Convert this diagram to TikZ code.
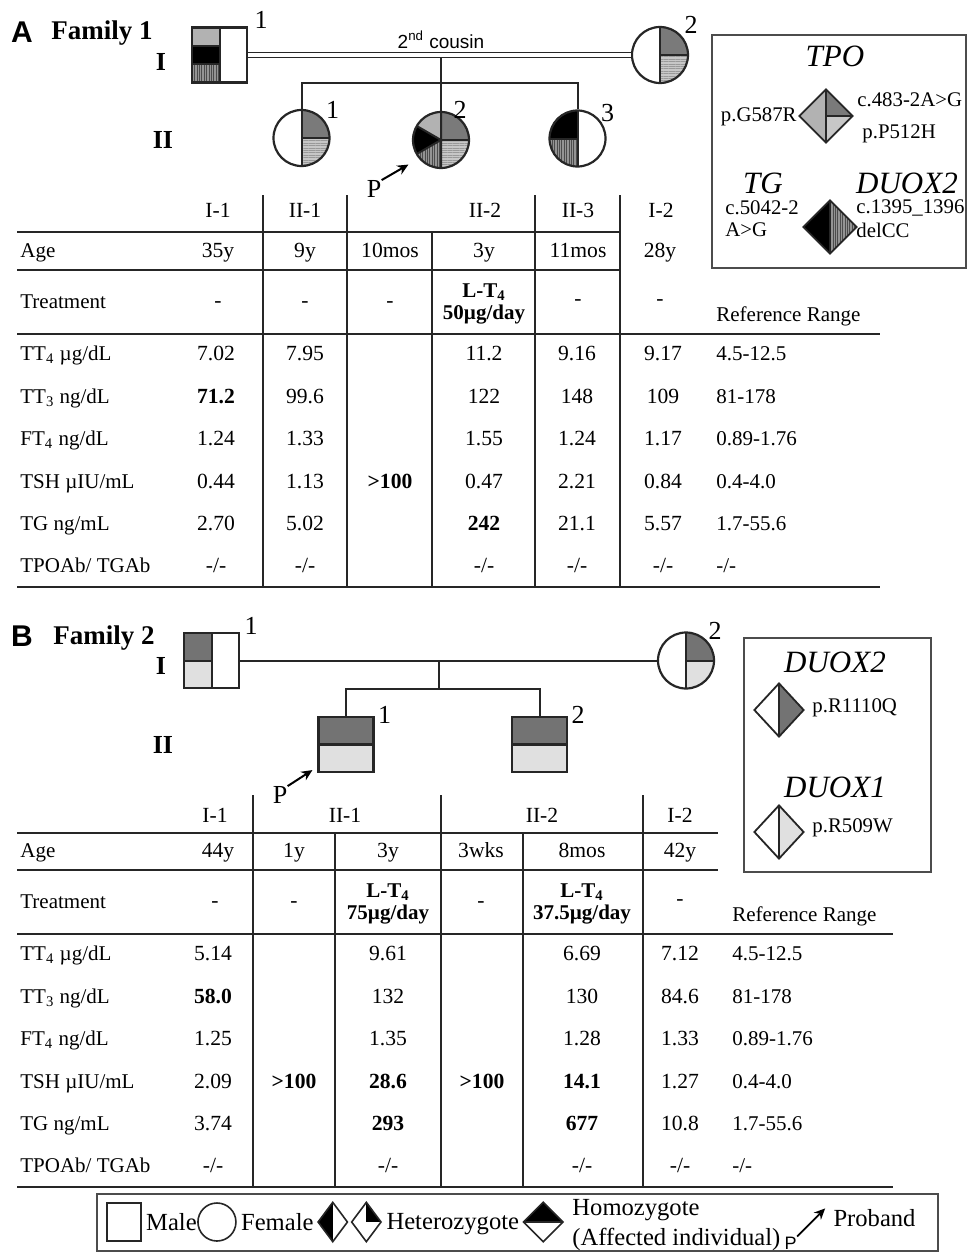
\documentclass[tikz,border=0pt]{standalone}
\usepackage{fontspec}
\setmainfont{Liberation Serif}
\newfontfamily\sansf{Liberation Sans}
\usetikzlibrary{shapes.geometric, arrows.meta, positioning, calc, patterns.meta}
\colorlet{cTpoA}{black!30}
\colorlet{cTpoB}{black!52}
\colorlet{cTpoC}{black!22}
\colorlet{cDuoxA}{black!42}
\colorlet{cDuoxB}{black!55}
\colorlet{cDuoxI}{black!12}
\colorlet{cLine}{black!85}
\newcommand{\ppb}{path picture bounding box}
\tikzset{
  pedline/.style={line width=1pt, cLine},
  sym/.style={draw=cLine, line width=1.1pt, inner sep=0pt},
  malesym/.style={sym, rectangle, minimum size=27.5pt},
  femalesym/.style={sym, circle, minimum size=28pt},
  genesym/.style={sym, diamond, minimum width=27pt, minimum height=27pt, line width=0.9pt},
  stripeV/.style={pattern={Lines[angle=90,distance=1.2pt,line width=0.3pt]}, pattern color=black!70},
  stripeH/.style={pattern={Lines[angle=0,distance=1.2pt,line width=0.3pt]}, pattern color=black!40},
  tag/.style={font=\sansf\bfseries\fontsize{15}{15}\selectfont, inner sep=0pt},
  famtitle/.style={font=\bfseries\fontsize{13.5}{14}\selectfont, inner sep=0pt},
  gen/.style={font=\bfseries\fontsize{13}{13}\selectfont, inner sep=0pt},
  idno/.style={font=\fontsize{13}{13}\selectfont, inner sep=0pt},
  cell/.style={font=\fontsize{10.8}{11}\selectfont, inner sep=0pt, text height=7.3pt, text depth=2.3pt},
  bcell/.style={cell, font=\bfseries\fontsize{10.8}{11}\selectfont},
  tcell/.style={font=\bfseries\fontsize{10.5}{11}\selectfont, inner sep=0pt, align=center},
  rowlab/.style={cell, font=\fontsize{10.5}{11}\selectfont, anchor=west},
  refcell/.style={cell, font=\fontsize{10.5}{11}\selectfont, anchor=west},
  hline/.style={line width=1.2pt, cLine},
  vline/.style={line width=0.9pt, cLine},
  gene/.style={font=\itshape\fontsize{15.5}{16}\selectfont, inner sep=0pt},
  mut/.style={font=\fontsize{10.4}{11}\selectfont, inner sep=0pt},
  legtext/.style={font=\fontsize{12.3}{12}\selectfont, inner sep=0pt},
  legbox/.style={line width=0.8pt, black!70},
  proband/.style={-{Stealth[length=5.5pt,width=5pt]}, line width=1pt}
}

\begin{document}
\begin{tikzpicture}[x=0.5pt, y=-0.5pt]
  \useasboundingbox (0,0) rectangle (969,1252);

  % Family 1 pedigree
  \node[tag] (A-tag) at (22,32) {A};
  \node[famtitle] (A-title) at (102,33) {Family 1};
  \node[gen] (A-genI) at (161,62) {I};
  \node[gen] (A-genII) at (163,140) {II};
  \node[malesym, path picture={
      \fill[cTpoA] (\ppb.north west) rectangle ($(\ppb.north)!1/3!(\ppb.south)$);
      \fill[black] ($(\ppb.north west)!1/3!(\ppb.south west)$) rectangle ($(\ppb.north)!2/3!(\ppb.south)$);
      \fill[cDuoxA] ($(\ppb.north west)!2/3!(\ppb.south west)$) rectangle (\ppb.south);
      \fill[stripeV] ($(\ppb.north west)!2/3!(\ppb.south west)$) rectangle (\ppb.south);
      \draw[line width=1pt] (\ppb.north) -- (\ppb.south)
        ($(\ppb.north west)!1/3!(\ppb.south west)$) -- ($(\ppb.north)!1/3!(\ppb.south)$)
        ($(\ppb.north west)!2/3!(\ppb.south west)$) -- ($(\ppb.north)!2/3!(\ppb.south)$);
    }] (A-I1) at (219.5,55) {};
  \node[femalesym, path picture={
      \fill[cTpoB] (\ppb.center) rectangle (\ppb.north east);
      \fill[cTpoC] (\ppb.center) rectangle (\ppb.south east);
      \fill[stripeH] (\ppb.center) rectangle (\ppb.south east);
      \draw[line width=1pt] (\ppb.north) -- (\ppb.south) (\ppb.center) -- (\ppb.east);
    }] (A-I2) at (660,55) {};
  \node[femalesym, path picture={
      \fill[cTpoB] (\ppb.center) rectangle (\ppb.north east);
      \fill[cTpoC] (\ppb.center) rectangle (\ppb.south east);
      \fill[stripeH] (\ppb.center) rectangle (\ppb.south east);
      \draw[line width=1pt] (\ppb.north) -- (\ppb.south) (\ppb.center) -- (\ppb.east);
    }] (A-II1) at (301.5,138) {};
  \node[femalesym, path picture={
      \fill[cTpoA] (\ppb.north west) rectangle (\ppb.south);
      \fill[cDuoxA] (\ppb.west) rectangle (\ppb.south);
      \fill[stripeV] (\ppb.west) rectangle (\ppb.south);
      \fill[black] (\ppb.center) -- +(150:40) -- +(210:40) -- cycle;
      \fill[cTpoB] (\ppb.center) rectangle (\ppb.north east);
      \fill[cTpoC] (\ppb.center) rectangle (\ppb.south east);
      \fill[stripeH] (\ppb.center) rectangle (\ppb.south east);
      \draw[line width=1pt] (\ppb.north) -- (\ppb.south) (\ppb.center) -- (\ppb.east)
        (\ppb.center) -- +(150:40) (\ppb.center) -- +(210:40);
    }] (A-II2) at (441,140) {};
  \node[femalesym, path picture={
      \fill[black] (\ppb.center) rectangle (\ppb.north west);
      \fill[cDuoxA] (\ppb.center) rectangle (\ppb.south west);
      \fill[stripeV] (\ppb.center) rectangle (\ppb.south west);
      \draw[line width=1pt] (\ppb.north) -- (\ppb.south) (\ppb.center) -- (\ppb.west);
    }] (A-II3) at (577.5,138.5) {};
  \node[idno] (A-I1-no) at ($(A-I1.north east)+(13,-6)$) {1};
  \node[idno] (A-I2-no) at ($(A-I2.center)+(31,-30)$) {2};
  \node[idno] (A-II1-no) at ($(A-II1.center)+(31,-28)$) {1};
  \node[idno] (A-II2-no) at ($(A-II2.center)+(19,-30)$) {2};
  \node[idno] (A-II3-no) at ($(A-II3.center)+(30,-25)$) {3};
  \coordinate (A-sib) at (0,83);
  \draw[pedline] (A-II2.north |- A-I1.east) -- (A-II2.north);
  \draw[pedline] (A-II1.north) -- (A-II1.north |- A-sib) -- (A-II3.north |- A-sib) -- (A-II3.north);
  \draw[cLine, line width=0.75pt, double, double distance=1.8pt] (A-I1.east) -- (A-I2.west);
  \node[font=\sansf\fontsize{9.5}{10}\selectfont, inner sep=0pt] (A-cousin) at (441,40) {2\textsuperscript{nd} cousin};
  \node[idno] (A-P) at (374,189) {P};
  \draw[proband] (A-P.north east) -- ($(A-II2.south west)+(-12,4)$);

  % Family 1 variants
  \draw[legbox] (712,35) rectangle (966,268);
  \node[gene] (A-tpo) at (835,56) {TPO};
  \node[genesym, path picture={
      \fill[cTpoA] (\ppb.north west) rectangle (\ppb.south);
      \fill[cTpoB] (\ppb.center) rectangle (\ppb.north east);
      \fill[cTpoC] (\ppb.center) rectangle (\ppb.south east);
      \draw[line width=0.9pt] (\ppb.north) -- (\ppb.south) (\ppb.center) -- (\ppb.east);
    }] (A-tpodia) at (826,116) {};
  \node[mut, anchor=east] (A-tpo1) at (797,117) {p.G587R};
  \node[mut, anchor=west] (A-tpo2) at (857,100) {c.483-2A>G};
  \node[mut, anchor=west] (A-tpo3) at (862,134) {p.P512H};
  \node[gene] (A-tg) at (763,183) {TG};
  \node[gene] (A-duox) at (907,183) {DUOX2};
  \node[genesym, path picture={
      \fill[black] (\ppb.north west) rectangle (\ppb.south);
      \fill[cDuoxA] (\ppb.north) rectangle (\ppb.south east);
      \fill[stripeV] (\ppb.north) rectangle (\ppb.south east);
      \draw[line width=0.9pt] (\ppb.north) -- (\ppb.south);
    }] (A-tgdia) at (830,227) {};
  \node[mut, anchor=west] (A-tg1) at (725,208) {c.5042-2};
  \node[mut, anchor=west] (A-tg2) at (725,230) {A>G};
  \node[mut, anchor=west] (A-duox1) at (856,208) {c.1395\_1396};
  \node[mut, anchor=west] (A-duox2) at (856,230) {delCC};

  % Family 1 table
  \draw[hline] (17,232) -- (620,232);
  \draw[hline] (17,270) -- (620,270);
  \draw[hline] (17,334) -- (880,334);
  \draw[hline] (17,587) -- (880,587);
  \draw[vline] (263,195) -- (263,587);
  \draw[vline] (347,195) -- (347,587);
  \draw[vline] (432,232) -- (432,587);
  \draw[vline] (535,195) -- (535,587);
  \draw[vline] (620,195) -- (620,587);
  \node[cell] (A-h1) at (218,212) {I-1};
  \node[cell] (A-h2) at (305,212) {II-1};
  \node[cell] (A-h3) at (485,212) {II-2};
  \node[cell] (A-h4) at (578,212) {II-3};
  \node[cell] (A-h5) at (661,212) {I-2};
  \node[rowlab] (A-age) at (20,252) {Age};
  \node[cell] (A-age1) at (218,252) {35y};
  \node[cell] (A-age2) at (305,252) {9y};
  \node[cell] (A-age3) at (390,252) {10mos};
  \node[cell] (A-age4) at (484,252) {3y};
  \node[cell] (A-age5) at (578,252) {11mos};
  \node[cell] (A-age6) at (660,252) {28y};
  \node[rowlab] (A-trt) at (20,303) {Treatment};
  \node[cell] (A-trt1) at (218,302) {-};
  \node[cell] (A-trt2) at (305,302) {-};
  \node[cell] (A-trt3) at (390,302) {-};
  \node[tcell] (A-trt4) at (484,304) {L-T\textsubscript{4}\\50µg/day};
  \node[cell] (A-trt5) at (578,300) {-};
  \node[cell] (A-trt6) at (660,300) {-};
  \node[refcell] (A-ref) at (716,316) {Reference Range};
  \node[rowlab] (A-tt4) at (20,355) {TT\textsubscript{4} µg/dL};
  \node[cell] (A-tt4-1) at (216,355) {7.02};
  \node[cell] (A-tt4-2) at (305,355) {7.95};
  \node[cell] (A-tt4-4) at (484,355) {11.2};
  \node[cell] (A-tt4-5) at (577,355) {9.16};
  \node[cell] (A-tt4-6) at (663,355) {9.17};
  \node[refcell] (A-tt4-r) at (716,355) {4.5-12.5};
  \node[rowlab] (A-tt3) at (20,398) {TT\textsubscript{3} ng/dL};
  \node[bcell] (A-tt3-1) at (216,398) {71.2};
  \node[cell] (A-tt3-2) at (305,398) {99.6};
  \node[cell] (A-tt3-4) at (484,398) {122};
  \node[cell] (A-tt3-5) at (577,398) {148};
  \node[cell] (A-tt3-6) at (663,398) {109};
  \node[refcell] (A-tt3-r) at (716,398) {81-178};
  \node[rowlab] (A-ft4) at (20,440) {FT\textsubscript{4} ng/dL};
  \node[cell] (A-ft4-1) at (216,440) {1.24};
  \node[cell] (A-ft4-2) at (305,440) {1.33};
  \node[cell] (A-ft4-4) at (484,440) {1.55};
  \node[cell] (A-ft4-5) at (577,440) {1.24};
  \node[cell] (A-ft4-6) at (663,440) {1.17};
  \node[refcell] (A-ft4-r) at (716,440) {0.89-1.76};
  \node[rowlab] (A-tsh) at (20,483) {TSH µIU/mL};
  \node[cell] (A-tsh-1) at (216,483) {0.44};
  \node[cell] (A-tsh-2) at (305,483) {1.13};
  \node[bcell] (A-tsh-3) at (390,483) {>100};
  \node[cell] (A-tsh-4) at (484,483) {0.47};
  \node[cell] (A-tsh-5) at (577,483) {2.21};
  \node[cell] (A-tsh-6) at (663,483) {0.84};
  \node[refcell] (A-tsh-r) at (716,483) {0.4-4.0};
  \node[rowlab] (A-tg) at (20,525) {TG ng/mL};
  \node[cell] (A-tg-1) at (216,525) {2.70};
  \node[cell] (A-tg-2) at (305,525) {5.02};
  \node[bcell] (A-tg-4) at (484,525) {242};
  \node[cell] (A-tg-5) at (577,525) {21.1};
  \node[cell] (A-tg-6) at (663,525) {5.57};
  \node[refcell] (A-tg-r) at (716,525) {1.7-55.6};
  \node[rowlab] (A-ab) at (20,567) {TPOAb/ TGAb};
  \node[cell] (A-ab-1) at (216,567) {-/-};
  \node[cell] (A-ab-2) at (305,567) {-/-};
  \node[cell] (A-ab-4) at (484,567) {-/-};
  \node[cell] (A-ab-5) at (577,567) {-/-};
  \node[cell] (A-ab-6) at (663,567) {-/-};
  \node[refcell] (A-ab-r) at (716,567) {-/-};

  % Family 2 pedigree
  \node[tag] (B-tag) at (22,636) {B};
  \node[famtitle] (B-title) at (104,638) {Family 2};
  \node[gen] (B-genI) at (161,666) {I};
  \node[gen] (B-genII) at (163,745) {II};
  \node[malesym, path picture={
      \fill[cDuoxB] (\ppb.north west) rectangle (\ppb.center);
      \fill[cDuoxI] (\ppb.west) rectangle (\ppb.south);
      \draw[line width=1pt] (\ppb.north) -- (\ppb.south) (\ppb.west) -- (\ppb.center);
    }] (B-I1) at (211.5,660.5) {};
  \node[femalesym, path picture={
      \fill[cDuoxB] (\ppb.center) rectangle (\ppb.north east);
      \fill[cDuoxI] (\ppb.center) rectangle (\ppb.south east);
      \draw[line width=1pt] (\ppb.north) -- (\ppb.south) (\ppb.center) -- (\ppb.east);
    }] (B-I2) at (686,660.5) {};
  \node[malesym, path picture={
      \fill[cDuoxB] (\ppb.north west) rectangle (\ppb.east);
      \fill[cDuoxI] (\ppb.west) rectangle (\ppb.south east);
      \draw[line width=1.1pt] (\ppb.west) -- (\ppb.east);
    }] (B-II1) at (346,744.5) {};
  \node[malesym, path picture={
      \fill[cDuoxB] (\ppb.north west) rectangle (\ppb.east);
      \fill[cDuoxI] (\ppb.west) rectangle (\ppb.south east);
      \draw[line width=1.1pt] (\ppb.west) -- (\ppb.east);
    }] (B-II2) at (539.5,744.5) {};
  \node[idno] (B-I1-no) at ($(B-I1.north east)+(11,-6)$) {1};
  \node[idno] (B-I2-no) at ($(B-I2.center)+(29,-30)$) {2};
  \node[idno] (B-II1-no) at ($(B-II1.north east)+(10,-1)$) {1};
  \node[idno] (B-II2-no) at ($(B-II2.north east)+(10,-1)$) {2};
  \coordinate (B-mate) at (439,660.5);
  \coordinate (B-sib) at (439,689);
  \draw[pedline] (B-I1.east) -- (B-I2.west);
  \draw[pedline] (B-mate) -- (B-sib);
  \draw[pedline] (B-II1.north) -- (B-II1.north |- B-sib) -- (B-II2.north |- B-sib) -- (B-II2.north);
  \node[idno] (B-P) at (280,795) {P};
  \draw[proband] (B-P.north east) -- ($(B-II1.south west)+(-5,-3)$);

  % Family 2 variants
  \draw[legbox] (744,638) rectangle (931,872);
  \node[gene] (B-duox2) at (835,662) {DUOX2};
  \node[genesym, minimum width=25pt, path picture={
      \fill[cDuoxB] (\ppb.north) rectangle (\ppb.south east);
      \draw[line width=0.9pt] (\ppb.north) -- (\ppb.south);
    }] (B-duox2dia) at (779,710) {};
  \node[mut, anchor=west] (B-duox2m) at (812,708) {p.R1110Q};
  \node[gene] (B-duox1) at (835,787) {DUOX1};
  \node[genesym, minimum width=25pt, path picture={
      \fill[cDuoxI] (\ppb.north) rectangle (\ppb.south east);
      \draw[line width=0.9pt] (\ppb.north) -- (\ppb.south);
    }] (B-duox1dia) at (779,832) {};
  \node[mut, anchor=west] (B-duox1m) at (812,828) {p.R509W};

  % Family 2 table
  \draw[hline] (17,833) -- (718,833);
  \draw[hline] (17,870) -- (718,870);
  \draw[hline] (17,934) -- (893,934);
  \draw[hline] (17,1187) -- (893,1187);
  \draw[vline] (253,795) -- (253,1187);
  \draw[vline] (335,833) -- (335,1187);
  \draw[vline] (441,795) -- (441,1187);
  \draw[vline] (523,833) -- (523,1187);
  \draw[vline] (643,795) -- (643,1187);
  \node[cell] (B-h1) at (215,817) {I-1};
  \node[cell] (B-h2) at (345,817) {II-1};
  \node[cell] (B-h3) at (542,817) {II-2};
  \node[cell] (B-h4) at (680,817) {I-2};
  \node[rowlab] (B-age) at (20,852) {Age};
  \node[cell] (B-age1) at (218,852) {44y};
  \node[cell] (B-age2) at (294,852) {1y};
  \node[cell] (B-age3) at (388,852) {3y};
  \node[cell] (B-age4) at (481,852) {3wks};
  \node[cell] (B-age5) at (582,852) {8mos};
  \node[cell] (B-age6) at (680,852) {42y};
  \node[rowlab] (B-trt) at (20,903) {Treatment};
  \node[cell] (B-trt1) at (215,902) {-};
  \node[cell] (B-trt2) at (294,902) {-};
  \node[tcell] (B-trt3) at (388,904) {L-T\textsubscript{4}\\75µg/day};
  \node[cell] (B-trt4) at (481,902) {-};
  \node[tcell] (B-trt5) at (582,904) {L-T\textsubscript{4}\\37.5µg/day};
  \node[cell] (B-trt6) at (680,900) {-};
  \node[refcell] (B-ref) at (732,916) {Reference Range};
  \node[rowlab] (B-tt4) at (20,955) {TT\textsubscript{4} µg/dL};
  \node[cell] (B-tt4-1) at (213,955) {5.14};
  \node[cell] (B-tt4-3) at (388,955) {9.61};
  \node[cell] (B-tt4-5) at (582,955) {6.69};
  \node[cell] (B-tt4-6) at (680,955) {7.12};
  \node[refcell] (B-tt4-r) at (732,955) {4.5-12.5};
  \node[rowlab] (B-tt3) at (20,998) {TT\textsubscript{3} ng/dL};
  \node[bcell] (B-tt3-1) at (213,998) {58.0};
  \node[cell] (B-tt3-3) at (388,998) {132};
  \node[cell] (B-tt3-5) at (582,998) {130};
  \node[cell] (B-tt3-6) at (680,998) {84.6};
  \node[refcell] (B-tt3-r) at (732,998) {81-178};
  \node[rowlab] (B-ft4) at (20,1040) {FT\textsubscript{4} ng/dL};
  \node[cell] (B-ft4-1) at (213,1040) {1.25};
  \node[cell] (B-ft4-3) at (388,1040) {1.35};
  \node[cell] (B-ft4-5) at (582,1040) {1.28};
  \node[cell] (B-ft4-6) at (680,1040) {1.33};
  \node[refcell] (B-ft4-r) at (732,1040) {0.89-1.76};
  \node[rowlab] (B-tsh) at (20,1083) {TSH µIU/mL};
  \node[cell] (B-tsh-1) at (213,1083) {2.09};
  \node[bcell] (B-tsh-2) at (294,1083) {>100};
  \node[bcell] (B-tsh-3) at (388,1083) {28.6};
  \node[bcell] (B-tsh-4) at (482,1083) {>100};
  \node[bcell] (B-tsh-5) at (582,1083) {14.1};
  \node[cell] (B-tsh-6) at (680,1083) {1.27};
  \node[refcell] (B-tsh-r) at (732,1083) {0.4-4.0};
  \node[rowlab] (B-tg) at (20,1125) {TG ng/mL};
  \node[cell] (B-tg-1) at (213,1125) {3.74};
  \node[bcell] (B-tg-3) at (388,1125) {293};
  \node[bcell] (B-tg-5) at (582,1125) {677};
  \node[cell] (B-tg-6) at (680,1125) {10.8};
  \node[refcell] (B-tg-r) at (732,1125) {1.7-55.6};
  \node[rowlab] (B-ab) at (20,1167) {TPOAb/ TGAb};
  \node[cell] (B-ab-1) at (213,1167) {-/-};
  \node[cell] (B-ab-3) at (388,1167) {-/-};
  \node[cell] (B-ab-5) at (582,1167) {-/-};
  \node[cell] (B-ab-6) at (680,1167) {-/-};
  \node[refcell] (B-ab-r) at (732,1167) {-/-};

  % Symbol legend
  \draw[legbox] (97,1194) rectangle (938,1251);
  \node[sym, rectangle, minimum width=17pt, minimum height=19pt, line width=0.8pt] (L-male) at (124,1222) {};
  \node[legtext, anchor=west] (L-maletxt) at ($(L-male.east)+(4,0)$) {Male};
  \node[sym, circle, minimum size=19pt, line width=0.8pt, anchor=west] (L-female) at (L-maletxt.east) {};
  \node[legtext, anchor=west] (L-femaletxt) at ($(L-female.east)+(4,0)$) {Female};
  \node[sym, diamond, minimum width=15pt, minimum height=20pt, line width=0.8pt, anchor=west, path picture={
      \fill[black] (\ppb.north west) rectangle (\ppb.south);
    }] (L-het1) at ($(L-femaletxt.east)+(3,0)$) {};
  \node[sym, diamond, minimum width=15pt, minimum height=20pt, line width=0.8pt, anchor=west, path picture={
      \fill[black] (\ppb.center) rectangle (\ppb.north east);
    }] (L-het2) at ($(L-het1.east)+(2,0)$) {};
  \node[legtext, anchor=west] (L-hettxt) at ($(L-het2.east)+(4,2)$) {Heterozygote};
  \node[sym, diamond, minimum width=20pt, minimum height=20pt, line width=0.8pt, anchor=west, path picture={
      \fill[black] (\ppb.north west) rectangle (\ppb.east);
      \draw[line width=0.8pt] (\ppb.west) -- (\ppb.east);
    }] (L-hom) at ($(L-hettxt.east)+(3,-2)$) {};
  \node[legtext, anchor=west] (L-homtxt) at ($(L-hom.east)+(8,-12)$) {Homozygote};
  \node[legtext, anchor=west] (L-afftxt) at ($(L-hom.east)+(8,17)$) {(Affected individual)};
  \node[font=\sansf\fontsize{9}{9}\selectfont, inner sep=0pt] (L-P) at ($(L-afftxt.east)+(10,4)$) {P};
  \coordinate (L-tip) at ($(L-P.north east)+(28,-28)$);
  \draw[proband, line width=0.9pt] (L-P.north east) -- (L-tip);
  \node[legtext, anchor=west] (L-protxt) at ($(L-tip)+(8,10)$) {Proband};
\end{tikzpicture}
\end{document}
